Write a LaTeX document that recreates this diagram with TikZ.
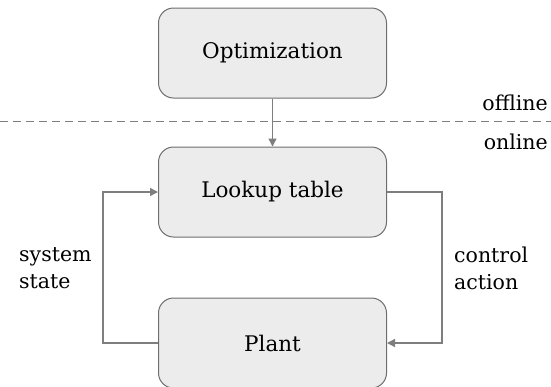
\documentclass[tikz,border=0pt]{standalone}
\usepackage{fontspec}
\setmainfont{DejaVu Serif}
\usetikzlibrary{arrows.meta}

\definecolor{boxfill}{HTML}{ECECEC}
\definecolor{boxline}{HTML}{6E6E6E}
\definecolor{wire}{HTML}{7E7E7E}

\tikzset{
  block/.style={draw=boxline, fill=boxfill, rounded corners=15pt, line width=1pt,
    minimum width=228pt, minimum height=90pt, inner sep=0pt, font=\fontsize{21.5}{26}\selectfont},
  wirearrow/.style={draw=wire, line width=1.3pt, -{Triangle[length=8pt,width=8pt]}},
  tag/.style={font=\fontsize{20.5}{27}\selectfont, align=left, inner sep=0pt}
}

\begin{document}
\begin{tikzpicture}[x=1pt,y=1pt,yscale=-1,xscale=1]

\useasboundingbox (0,0) rectangle (551,386);

\node[block] (opt) at (272.5, 53) {Optimization};
\node[block] (lut) at (272.5, 192) {Lookup table};
\node[block] (plant) at (272.5, 343) {Plant};

% offline / online split
\draw [color=wire, line width=0.9pt, dash pattern=on 8pt off 5pt] (0, 121) -- (551, 121);
\node[tag, anchor=base east] (offl) at (548, 110) {offline};
\node[tag, anchor=base east] (onl) at (548, 149) {online};

\draw [wirearrow] (opt) -- (lut);

% feedback loop
\coordinate (lleft) at (103, 192);
\coordinate (pleft) at (103, 343);
\coordinate (lright) at (442, 192);
\coordinate (pright) at (442, 343);
\draw [wirearrow] (plant.west) -- (pleft) -- (lleft) -- (lut.west);
\draw [wirearrow] (lut.east) -- (lright) -- (pright) -- (plant.east);

\node[tag, anchor=west] (state) at (19, 268) {system\\state};
\node[tag, anchor=west] (act) at (454, 268) {control\\action};

\end{tikzpicture}
\end{document}
